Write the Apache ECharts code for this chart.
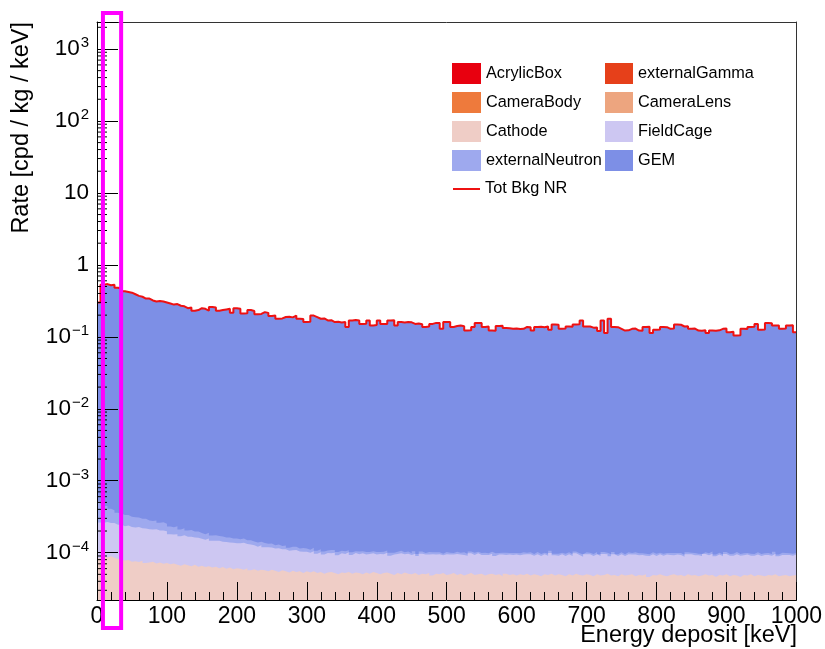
<!DOCTYPE html>
<html>
<head>
<meta charset="utf-8">
<script src="https://cdn.jsdelivr.net/npm/echarts@6/dist/echarts.min.js"></script>
<style>
  html, body { margin: 0; padding: 0; background: #fff; }
  #chart { width: 825px; height: 649px; }
</style>
</head>
<body>
<div id="chart"></div>
<script>
(function() {
  var FONT = '"Liberation Sans", Arial, Helvetica, sans-serif';

  // --- data: stacked NR background, 5 keV bins from 0 to 1000 keV ---
  var binWidth = 5;
  var energyRange = [0, 1000];
  var yRange = [2.2e-5, 2370];
  var yTickExponents = [-4, -3, -2, -1, 0, 1, 2, 3];
  var highlightRange = [8.5, 34.5]; // keV, magenta box

  // these four sit below the axis floor, nothing of them is visible
  var acrylicBox = [];
  var externalGamma = [];
  var cameraBody = [];
  var cameraLens = [];

  var cathode = [
    8.4e-5, 8.8e-5, 8.6e-5, 8.9e-5, 8.5e-5, 8.2e-5, 8.0e-5, 7.8e-5, 7.9e-5, 7.5e-5,
    7.6e-5, 7.4e-5, 7.7e-5, 7.2e-5, 7.3e-5, 7.5e-5, 7.1e-5, 7.3e-5, 7.0e-5, 7.2e-5,
    6.9e-5, 7.1e-5, 6.8e-5, 6.6e-5, 6.9e-5, 6.7e-5, 6.5e-5, 6.8e-5, 6.4e-5, 6.6e-5,
    6.3e-5, 6.5e-5, 6.2e-5, 6.4e-5, 6.1e-5, 6.3e-5, 6.0e-5, 6.2e-5, 5.9e-5, 6.1e-5,
    6.0e-5, 5.8e-5, 6.1e-5, 5.7e-5, 5.9e-5, 5.6e-5, 5.8e-5, 5.7e-5, 5.5e-5, 5.8e-5,
    5.6e-5, 5.4e-5, 5.7e-5, 5.5e-5, 5.3e-5, 5.6e-5, 5.4e-5, 5.5e-5, 5.2e-5, 5.5e-5,
    5.3e-5, 5.5e-5, 5.2e-5, 5.4e-5, 5.1e-5, 5.3e-5, 5.4e-5, 5.2e-5, 5.0e-5, 5.3e-5,
    5.2e-5, 5.4e-5, 5.1e-5, 5.3e-5, 5.2e-5, 5.0e-5, 5.3e-5, 5.1e-5, 5.4e-5, 5.2e-5,
    5.0e-5, 5.2e-5, 5.3e-5, 5.1e-5, 4.9e-5, 5.2e-5, 5.0e-5, 5.3e-5, 5.1e-5, 5.0e-5,
    5.2e-5, 4.9e-5, 5.1e-5, 5.0e-5, 5.2e-5, 4.8e-5, 5.1e-5, 5.0e-5, 5.2e-5, 4.9e-5,
    5.0e-5, 5.2e-5, 4.9e-5, 5.1e-5, 4.8e-5, 5.0e-5, 5.2e-5, 4.9e-5, 5.0e-5, 5.1e-5,
    4.8e-5, 5.0e-5, 5.1e-5, 4.9e-5, 5.0e-5, 4.7e-5, 5.1e-5, 4.9e-5, 5.0e-5, 4.8e-5,
    5.0e-5, 4.9e-5, 5.1e-5, 4.8e-5, 5.0e-5, 4.9e-5, 4.7e-5, 5.0e-5, 4.9e-5, 5.1e-5,
    4.8e-5, 5.0e-5, 4.9e-5, 4.7e-5, 5.0e-5, 4.8e-5, 5.1e-5, 4.9e-5, 4.8e-5, 5.0e-5,
    4.9e-5, 4.7e-5, 5.0e-5, 4.8e-5, 4.9e-5, 5.1e-5, 4.8e-5, 4.9e-5, 4.7e-5, 5.0e-5,
    4.8e-5, 4.9e-5, 5.0e-5, 4.7e-5, 4.9e-5, 4.8e-5, 5.0e-5, 4.6e-5, 4.9e-5, 4.8e-5,
    5.0e-5, 4.8e-5, 4.7e-5, 4.9e-5, 5.0e-5, 4.8e-5, 4.9e-5, 4.7e-5, 5.0e-5, 4.8e-5,
    4.9e-5, 4.7e-5, 4.8e-5, 5.0e-5, 4.8e-5, 4.9e-5, 4.6e-5, 4.9e-5, 4.8e-5, 5.0e-5,
    4.7e-5, 4.9e-5, 4.8e-5, 4.6e-5, 4.9e-5, 4.8e-5, 5.0e-5, 4.7e-5, 4.9e-5, 4.8e-5,
    4.7e-5, 4.9e-5, 4.8e-5, 5.0e-5, 4.7e-5, 4.8e-5, 4.9e-5, 4.7e-5, 4.8e-5, 4.9e-5
  ];

  var fieldCage = [
    1.78e-4, 1.72e-4, 1.80e-4, 1.70e-4, 1.74e-4, 1.62e-4, 1.66e-4, 1.55e-4, 1.60e-4, 1.52e-4,
    1.48e-4, 1.54e-4, 1.42e-4, 1.45e-4, 1.38e-4, 1.35e-4, 1.40e-4, 1.30e-4, 1.33e-4, 1.27e-4,
    1.12e-4, 1.08e-4, 1.13e-4, 1.03e-4, 1.06e-4, 9.9e-5, 1.02e-4, 9.5e-5, 9.7e-5, 9.0e-5,
    8.8e-5, 9.2e-5, 8.5e-5, 8.2e-5, 8.6e-5, 7.9e-5, 8.1e-5, 7.6e-5, 7.8e-5, 7.4e-5,
    7.5e-5, 7.9e-5, 7.1e-5, 7.3e-5, 6.8e-5, 6.5e-5, 6.9e-5, 6.2e-5, 6.4e-5, 6.0e-5,
    5.8e-5, 6.1e-5, 5.5e-5, 5.7e-5, 5.3e-5, 5.2e-5, 5.5e-5, 4.9e-5, 5.1e-5, 4.8e-5,
    4.7e-5, 5.0e-5, 4.5e-5, 4.7e-5, 4.3e-5, 4.6e-5, 4.4e-5, 4.8e-5, 4.2e-5, 4.5e-5,
    4.4e-5, 4.7e-5, 4.2e-5, 4.6e-5, 4.3e-5, 4.8e-5, 4.1e-5, 4.5e-5, 4.4e-5, 4.2e-5,
    4.6e-5, 4.3e-5, 4.7e-5, 4.0e-5, 4.5e-5, 4.4e-5, 4.8e-5, 4.2e-5, 4.6e-5, 4.3e-5,
    4.5e-5, 4.1e-5, 4.6e-5, 4.4e-5, 4.2e-5, 4.7e-5, 4.3e-5, 4.5e-5, 4.0e-5, 4.6e-5,
    4.4e-5, 4.2e-5, 4.7e-5, 4.3e-5, 4.5e-5, 4.1e-5, 4.6e-5, 4.4e-5, 4.8e-5, 4.2e-5,
    4.5e-5, 4.3e-5, 4.6e-5, 4.1e-5, 4.4e-5, 4.7e-5, 4.2e-5, 4.5e-5, 4.3e-5, 4.6e-5,
    4.2e-5, 4.5e-5, 4.4e-5, 4.7e-5, 4.1e-5, 4.6e-5, 4.3e-5, 4.5e-5, 4.2e-5, 4.8e-5,
    4.4e-5, 4.1e-5, 4.6e-5, 4.3e-5, 4.5e-5, 4.2e-5, 4.7e-5, 4.4e-5, 4.0e-5, 4.5e-5,
    4.6e-5, 4.3e-5, 4.5e-5, 4.2e-5, 4.7e-5, 4.4e-5, 4.1e-5, 4.6e-5, 4.3e-5, 4.5e-5,
    4.2e-5, 4.6e-5, 4.4e-5, 4.7e-5, 4.3e-5, 4.5e-5, 4.1e-5, 4.4e-5, 4.6e-5, 4.2e-5,
    4.5e-5, 4.3e-5, 4.7e-5, 4.4e-5, 4.2e-5, 4.6e-5, 4.4e-5, 4.1e-5, 4.5e-5, 4.7e-5,
    4.3e-5, 4.5e-5, 4.2e-5, 4.6e-5, 4.4e-5, 4.8e-5, 4.3e-5, 4.5e-5, 4.1e-5, 4.6e-5,
    4.4e-5, 4.2e-5, 4.7e-5, 4.5e-5, 4.3e-5, 4.6e-5, 4.1e-5, 4.4e-5, 4.5e-5, 4.2e-5,
    4.6e-5, 4.4e-5, 4.3e-5, 4.7e-5, 4.2e-5, 4.5e-5, 4.4e-5, 4.6e-5, 4.3e-5, 4.5e-5
  ];

  var externalNeutron = [
    2.6e-4, 2.2e-4, 1.8e-4, 1.5e-4, 1.3e-4, 1.15e-4, 1.05e-4, 1.0e-4, 9.5e-5, 9.0e-5,
    8.6e-5, 8.0e-5, 7.6e-5, 7.9e-5, 6.8e-5, 6.5e-5, 7.0e-5, 5.8e-5, 6.1e-5, 5.4e-5,
    5.0e-5, 4.6e-5, 5.2e-5, 4.1e-5, 4.4e-5, 3.8e-5, 4.0e-5, 3.4e-5, 3.6e-5, 3.1e-5,
    2.9e-5, 3.2e-5, 2.6e-5, 2.8e-5, 2.4e-5, 2.6e-5, 2.2e-5, 2.5e-5, 2.0e-5, 2.3e-5,
    1.9e-5, 2.1e-5, 1.7e-5, 1.9e-5, 1.6e-5, 1.8e-5, 1.5e-5, 1.7e-5, 1.4e-5, 1.6e-5,
    1.3e-5, 1.5e-5, 1.2e-5, 1.4e-5, 1.1e-5, 1.3e-5, 1.2e-5, 1.0e-5, 1.3e-5, 1.1e-5,
    1.0e-5, 1.2e-5, 9e-6, 1.1e-5, 1.0e-5, 8e-6, 1.1e-5, 9e-6, 1.0e-5, 8e-6,
    9e-6, 7e-6, 8e-6, 6e-6, 9e-6, 7e-6, 8e-6, 6e-6, 7e-6, 8e-6,
    6e-6, 8e-6, 7e-6, 9e-6, 6e-6, 7e-6, 8e-6, 6e-6, 7e-6, 5e-6,
    8e-6, 6e-6, 7e-6, 5e-6, 8e-6, 6e-6, 7e-6, 6e-6, 5e-6, 7e-6,
    6e-6, 5e-6, 7e-6, 6e-6, 8e-6, 5e-6, 6e-6, 7e-6, 5e-6, 6e-6,
    7e-6, 5e-6, 6e-6, 8e-6, 5e-6, 6e-6, 7e-6, 5e-6, 6e-6, 5e-6,
    6e-6, 7e-6, 5e-6, 6e-6, 5e-6, 7e-6, 6e-6, 5e-6, 6e-6, 7e-6,
    5e-6, 6e-6, 5e-6, 7e-6, 6e-6, 5e-6, 6e-6, 5e-6, 7e-6, 6e-6,
    5e-6, 6e-6, 7e-6, 5e-6, 6e-6, 5e-6, 6e-6, 7e-6, 5e-6, 6e-6,
    5e-6, 6e-6, 5e-6, 7e-6, 6e-6, 5e-6, 6e-6, 5e-6, 6e-6, 7e-6,
    5e-6, 6e-6, 5e-6, 6e-6, 7e-6, 5e-6, 6e-6, 5e-6, 6e-6, 5e-6,
    7e-6, 5e-6, 6e-6, 5e-6, 6e-6, 7e-6, 5e-6, 6e-6, 5e-6, 6e-6,
    5e-6, 6e-6, 7e-6, 5e-6, 6e-6, 5e-6, 6e-6, 5e-6, 7e-6, 6e-6,
    5e-6, 6e-6, 5e-6, 6e-6, 5e-6, 7e-6, 6e-6, 5e-6, 6e-6, 5e-6
  ];

  var gem = [
    0.30, 0.53, 0.54, 0.52, 0.53, 0.48, 0.47, 0.43, 0.42, 0.41,
    0.39, 0.37, 0.36, 0.34, 0.34, 0.32, 0.31, 0.315, 0.31, 0.30,
    0.29, 0.28, 0.285, 0.27, 0.265, 0.25, 0.255, 0.23, 0.235, 0.25,
    0.245, 0.23, 0.26, 0.255, 0.23, 0.235, 0.24, 0.245, 0.215, 0.25,
    0.245, 0.21, 0.212, 0.235, 0.228, 0.205, 0.208, 0.22, 0.215, 0.195,
    0.197, 0.178, 0.18, 0.188, 0.19, 0.186, 0.197, 0.178, 0.176, 0.16,
    0.162, 0.197, 0.188, 0.178, 0.18, 0.169, 0.17, 0.16, 0.162, 0.158,
    0.16, 0.137, 0.169, 0.171, 0.168, 0.151, 0.152, 0.169, 0.144, 0.146,
    0.169, 0.151, 0.15, 0.169, 0.17, 0.144, 0.16, 0.158, 0.161, 0.159,
    0.151, 0.153, 0.149, 0.137, 0.139, 0.151, 0.156, 0.155, 0.129, 0.16,
    0.161, 0.137, 0.141, 0.143, 0.14, 0.122, 0.123, 0.137, 0.156, 0.155,
    0.137, 0.139, 0.122, 0.121, 0.141, 0.142, 0.132, 0.131, 0.129, 0.13,
    0.128, 0.129, 0.137, 0.136, 0.122, 0.137, 0.138, 0.136, 0.139, 0.125,
    0.148, 0.147, 0.129, 0.13, 0.139, 0.138, 0.148, 0.149, 0.168, 0.139,
    0.139, 0.134, 0.135, 0.12, 0.169, 0.113, 0.178, 0.137, 0.136, 0.129,
    0.122, 0.123, 0.129, 0.13, 0.122, 0.121, 0.137, 0.138, 0.113, 0.125,
    0.126, 0.137, 0.136, 0.129, 0.13, 0.148, 0.147, 0.139, 0.14, 0.129,
    0.13, 0.122, 0.121, 0.123, 0.113, 0.122, 0.121, 0.123, 0.129, 0.13,
    0.116, 0.117, 0.104, 0.105, 0.129, 0.128, 0.137, 0.138, 0.151, 0.125,
    0.126, 0.155, 0.154, 0.144, 0.143, 0.129, 0.13, 0.144, 0.145, 0.116
  ];

  // stacking order, bottom first (as in the legend)
  var seriesNames = ['AcrylicBox', 'externalGamma', 'CameraBody', 'CameraLens',
    'Cathode', 'FieldCage', 'externalNeutron', 'GEM'];
  var seriesValues = [acrylicBox, externalGamma, cameraBody, cameraLens,
    cathode, fieldCage, externalNeutron, gem];
  var seriesColors = ['#e8000f', '#e6401a', '#ee7a3c', '#eda57f',
    '#efcdc6', '#cdc7f2', '#9ea9ee', '#7d8fe6'];
  var totalColor = '#ee1111';

  // running sums: top edge of each layer of the stack
  var nBins = gem.length;
  var running = [];
  for (var b = 0; b < nBins; b++) running.push(0);
  var stackTops = seriesValues.map(function(vals) {
    if (!vals.length) return [];
    running = running.map(function(s, j) { return s + vals[j]; });
    return running.slice();
  });
  var totBkgNR = running.slice();

  // histogram as a step line: one point per lower bin edge, plus the closing edge
  function toSteps(vals) {
    var pts = vals.map(function(v, i) { return [energyRange[0] + i * binWidth, v]; });
    if (vals.length) pts.push([energyRange[0] + vals.length * binWidth, vals[vals.length - 1]]);
    return pts;
  }

  // minor log ticks at 2..9 x 10^n
  var minorTicks = [];
  for (var n = -5; n <= 3; n++) {
    for (var k = 2; k <= 9; k++) {
      var t = k * Math.pow(10, n);
      if (t > yRange[0] && t < yRange[1]) minorTicks.push([energyRange[0], t]);
    }
  }

  var chart = echarts.init(document.getElementById('chart'));

  // the upper layers are drawn first, each lower layer is painted over them
  var series = [];
  for (var i = seriesNames.length - 1; i >= 0; i--) {
    series.push({
      name: seriesNames[i],
      type: 'line',
      step: 'end',
      data: toSteps(stackTops[i]),
      symbol: 'none',
      color: seriesColors[i],
      lineStyle: { width: 0 },
      areaStyle: { color: seriesColors[i], opacity: 1, origin: 'start' },
      z: 2
    });
  }

  series.push({
    name: 'Tot Bkg NR',
    type: 'line',
    step: 'end',
    data: toSteps(totBkgNR),
    symbol: 'none',
    color: totalColor,
    lineStyle: { color: totalColor, width: 2 },
    z: 5
  });

  series.push({
    type: 'custom',
    silent: true,
    clip: false,
    z: 12,
    data: minorTicks,
    renderItem: function(params, api) {
      var p = api.coord([api.value(0), api.value(1)]);
      return {
        type: 'line',
        shape: { x1: p[0], y1: p[1], x2: p[0] + 10, y2: p[1] },
        style: { stroke: '#000', lineWidth: 1 }
      };
    }
  });

  var legendText = { fontSize: 16.3, color: '#000', fontFamily: FONT };

  function yLabel(v) {
    var lg = Math.log10(v);
    var e = Math.round(lg);
    if (Math.abs(lg - e) > 1e-6 || yTickExponents.indexOf(e) < 0) return '';
    if (e === 0) return '1';
    if (e === 1) return '10';
    return '{b|10}{s|' + (e < 0 ? '\u2212' + (-e) : e) + '}';
  }

  chart.setOption({
    animation: false,
    backgroundColor: '#fff',
    grid: { left: 97, right: 28, top: 22, bottom: 49, containLabel: false },
    legend: [
      {
        data: ['AcrylicBox', 'CameraBody', 'Cathode', 'externalNeutron'],
        orient: 'vertical', left: 452, top: 63, padding: 0,
        itemWidth: 29, itemHeight: 21, itemGap: 8,
        icon: 'rect', selectedMode: false,
        itemStyle: { borderWidth: 0 },
        textStyle: legendText
      },
      {
        data: ['externalGamma', 'CameraLens', 'FieldCage', 'GEM'],
        orient: 'vertical', left: 605, top: 63, padding: 0,
        itemWidth: 28, itemHeight: 21, itemGap: 8,
        icon: 'rect', selectedMode: false,
        itemStyle: { borderWidth: 0 },
        textStyle: legendText
      },
      {
        data: ['Tot Bkg NR'],
        orient: 'vertical', left: 453, top: 181, padding: 0,
        itemWidth: 27, itemHeight: 2,
        icon: 'rect', selectedMode: false,
        itemStyle: { borderWidth: 0 },
        textStyle: legendText
      }
    ],
    xAxis: [
      {
        type: 'value',
        min: energyRange[0], max: energyRange[1], interval: 100,
        axisLine: { show: true, onZero: false, lineStyle: { color: '#000', width: 1 } },
        axisTick: { show: true, inside: true, length: 18, lineStyle: { color: '#000' } },
        minorTick: { show: true, splitNumber: 5, length: 8, lineStyle: { color: '#000' } },
        axisLabel: {
          color: '#000', fontSize: 23, fontFamily: FONT, margin: 5,
          formatter: function(v) { return String(v); }
        },
        splitLine: { show: false },
        z: 10
      },
      {
        type: 'value', position: 'top',
        min: energyRange[0], max: energyRange[1],
        axisLine: { show: true, onZero: false, lineStyle: { color: '#333', width: 1 } },
        axisTick: { show: false }, axisLabel: { show: false }, splitLine: { show: false },
        z: 10
      }
    ],
    yAxis: [
      {
        type: 'log', logBase: 10,
        min: yRange[0], max: yRange[1], splitNumber: 8,
        axisLine: { show: true, onZero: false, lineStyle: { color: '#000', width: 1 } },
        axisTick: { show: true, inside: true, length: 21, lineStyle: { color: '#000' } },
        axisLabel: {
          color: '#000', fontSize: 22.5, fontFamily: FONT, margin: 8,
          formatter: yLabel,
          rich: {
            b: { fontSize: 22.5, fontFamily: FONT, color: '#000' },
            s: { fontSize: 15, fontFamily: FONT, color: '#000', verticalAlign: 'top', padding: [0, 0, 12, 1] }
          }
        },
        splitLine: { show: false },
        z: 10
      },
      {
        type: 'value', position: 'right', min: 0, max: 1,
        axisLine: { show: true, onZero: false, lineStyle: { color: '#333', width: 1 } },
        axisTick: { show: false }, axisLabel: { show: false }, splitLine: { show: false },
        z: 10
      }
    ],
    series: series,
    graphic: [
      {
        type: 'text', id: 'xtitle', x: 797, y: 636, z: 20,
        style: {
          text: 'Energy deposit [keV]', fill: '#000',
          font: '23.5px ' + FONT,
          align: 'right', verticalAlign: 'middle',
          textAlign: 'right', textVerticalAlign: 'middle'
        }
      },
      {
        type: 'text', id: 'ytitle', x: 22, y: 22, rotation: Math.PI / 2, z: 20,
        style: {
          text: 'Rate [cpd / kg / keV]', fill: '#000',
          font: '23.5px ' + FONT,
          align: 'right', verticalAlign: 'middle',
          textAlign: 'right', textVerticalAlign: 'middle'
        }
      }
    ]
  });

  // magenta highlight box around the low-energy bins
  var hx0 = chart.convertToPixel({ xAxisIndex: 0 }, highlightRange[0]);
  var hx1 = chart.convertToPixel({ xAxisIndex: 0 }, highlightRange[1]);
  chart.setOption({
    graphic: [{
      type: 'rect', id: 'highlight', z: 30, silent: true,
      shape: { x: hx0, y: 13, width: hx1 - hx0, height: 615 },
      style: { fill: 'none', stroke: '#ff00ff', lineWidth: 4 }
    }]
  });

  window.addEventListener('resize', function() { chart.resize(); });
})();
</script>
</body>
</html>
